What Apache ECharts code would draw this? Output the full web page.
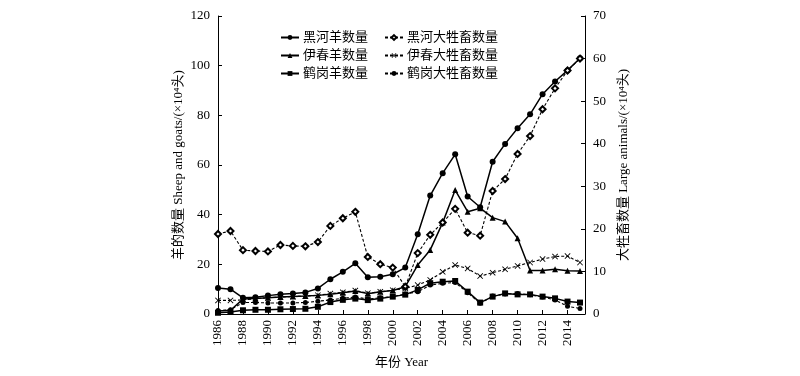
<!DOCTYPE html>
<html><head><meta charset="utf-8">
<script src="https://cdn.jsdelivr.net/npm/echarts@6/dist/echarts.min.js"></script>
<style>html,body{margin:0;padding:0;background:#fff}#c{width:800px;height:376px}</style>
</head><body><div id="c"></div>
<script>
const years = [1986,1987,1988,1989,1990,1991,1992,1993,1994,1995,1996,1997,1998,1999,2000,2001,2002,2003,2004,2005,2006,2007,2008,2009,2010,2011,2012,2013,2014,2015];
const heiheSheep = [10.5,10.0,6.5,6.7,7.4,8.0,8.3,8.7,10.3,14.0,17.0,20.4,14.8,15.0,16.0,18.7,32.1,47.7,56.7,64.3,47.3,43.0,61.3,68.5,74.8,80.4,88.5,93.6,98.1,103.0];
const yichunSheep = [1.2,1.5,6.0,6.2,6.5,6.8,7.0,7.2,7.5,8.0,8.6,9.3,8.2,9.0,9.5,11.0,19.7,25.8,36.8,49.9,41.2,42.6,38.8,37.2,30.5,17.5,17.5,18.0,17.4,17.3];
const hegangSheep = [0.5,0.8,1.5,1.7,1.7,1.9,2.0,2.1,2.9,4.8,5.7,6.2,5.6,6.2,7.0,7.8,9.7,12.4,13.0,13.3,9.0,4.6,7.0,8.3,7.9,7.9,7.0,6.3,5.0,4.6];
const heiheLarge = [18.8,19.5,15.0,14.8,14.7,16.2,16.0,15.9,16.9,20.7,22.5,24.0,13.4,11.7,10.9,6.4,14.3,18.6,21.5,24.7,19.1,18.4,28.9,31.7,37.6,41.8,48.1,53.0,57.2,60.0];
const yichunLarge = [3.2,3.2,3.3,3.6,3.8,4.0,4.1,4.2,4.4,4.8,5.1,5.5,4.9,5.2,5.6,6.0,6.8,8.0,9.9,11.5,10.7,8.9,9.7,10.5,11.3,12.1,12.9,13.5,13.6,12.1];
const hegangLarge = [0.8,1.0,2.7,2.7,2.6,2.6,2.6,2.7,3.0,3.3,3.7,4.0,3.5,3.8,4.1,4.7,5.2,6.8,7.2,7.4,5.0,2.5,4.2,4.7,4.8,4.5,4.0,3.3,1.8,1.3];
const names = ['黑河羊数量','伊春羊数量','鹤岗羊数量','黑河大牲畜数量','伊春大牲畜数量','鹤岗大牲畜数量'];

const FONT = '"Liberation Serif","Noto Sans CJK SC",serif';
const xSym = 'path://M0,1L1,0L5,4L9,0L10,1L6,5L10,9L9,10L5,6L1,10L0,9L4,5Z';
const pair = arr => years.map((y,i)=>[y,arr[i]]);

function ser(name, data, yIdx, symbol, size, dashed){
  return {
    name, type:'line', yAxisIndex:yIdx, data:pair(data),
    symbol, symbolSize:size, showSymbol:true,
    lineStyle:{color:'#000', width: dashed?1.1:1.5, type: dashed?[3,2]:'solid'},
    itemStyle:{color:'#000', borderColor:'#000', borderWidth: symbol==='emptyDiamond'?1:0},
    emphasis:{disabled:true}, animation:false
  };
}

const axisCommon = {
  axisLine:{show:true, lineStyle:{color:'#000', width:1}},
  axisTick:{show:true, inside:true, length:4, lineStyle:{color:'#000'}},
  axisLabel:{color:'#000', fontFamily:FONT, fontSize:13},
  splitLine:{show:false},
  nameTextStyle:{color:'#000', fontFamily:FONT, fontSize:13}
};
const legendCommon = {orient:'vertical', top:31, padding:0, itemWidth:18, itemHeight:6, itemGap:5,
  textStyle:{color:'#000', fontFamily:FONT, fontSize:13, padding:[0,0,0,-1]}, selectedMode:false};

const chart = echarts.init(document.getElementById('c'));
chart.setOption({
  animation:false,
  grid:{left:218, right:215, top:16, bottom:62, containLabel:false},
  legend:[
    Object.assign({}, legendCommon, {data:names.slice(0,3), left:280}),
    Object.assign({}, legendCommon, {data:names.slice(3), left:384})
  ],
  xAxis:Object.assign({}, axisCommon, {
    type:'value', min:1986, max:2015.4, interval:2,
    name:'年份 Year', nameLocation:'middle', nameGap:42,
    axisLabel:Object.assign({}, axisCommon.axisLabel, {rotate:90, margin:6,
      formatter: v => (Number.isInteger(v) && v<=2014) ? String(v) : ''})
  }),
  yAxis:[
    Object.assign({}, axisCommon, {type:'value', min:0, max:120, interval:20, position:'left',
      name:'羊的数量 Sheep and goats/(×10⁴头)', nameLocation:'middle', nameGap:33, nameRotate:90,
      axisLabel:Object.assign({}, axisCommon.axisLabel, {margin:8})}),
    Object.assign({}, axisCommon, {type:'value', min:0, max:70, interval:10, position:'right',
      name:'大牲畜数量 Large animals/(×10⁴头)', nameLocation:'middle', nameGap:32, nameRotate:90,
      axisLabel:Object.assign({}, axisCommon.axisLabel, {margin:8})})
  ],
  series:[
    ser(names[0], heiheSheep, 0, 'circle', 6, false),
    ser(names[1], yichunSheep, 0, 'triangle', 6, false),
    ser(names[2], hegangSheep, 0, 'rect', 6, false),
    ser(names[3], heiheLarge, 1, 'emptyDiamond', 6, true),
    ser(names[4], yichunLarge, 1, xSym, 6, true),
    ser(names[5], hegangLarge, 1, 'circle', 5, true)
  ]
});
</script></body></html>
